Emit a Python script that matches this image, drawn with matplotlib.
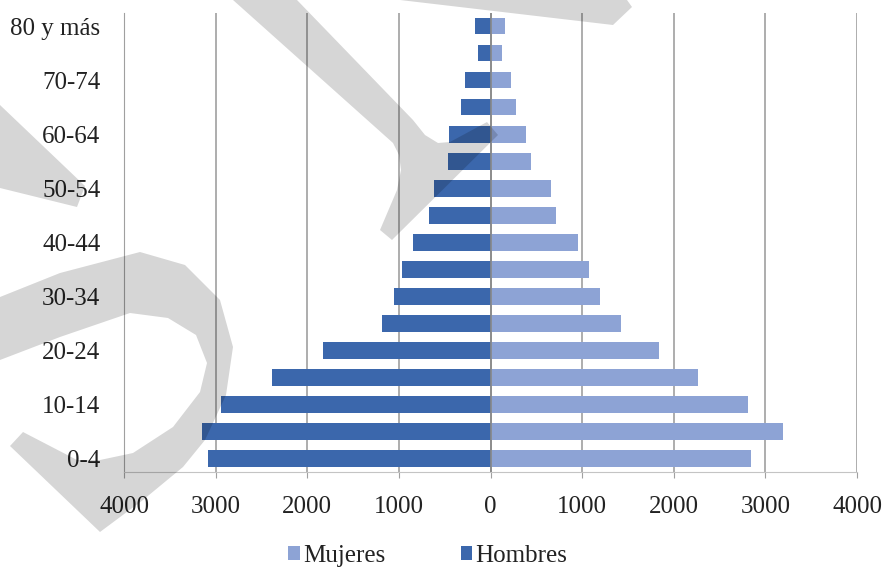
import numpy as np
import matplotlib
matplotlib.use('Agg')
from matplotlib import pyplot as plt
from matplotlib.patches import Polygon
from matplotlib.transforms import Affine2D

# age groups, bottom to top
grupos = ['0-4', '5-9', '10-14', '15-19', '20-24', '25-29', '30-34', '35-39',
          '40-44', '45-49', '50-54', '55-59', '60-64', '65-69', '70-74',
          '75-79', '80 y más']
hombres = [3080, 3150, 2940, 2380, 1830, 1180, 1050, 970, 850, 670, 620,
           460, 450, 320, 280, 140, 170]
mujeres = [2840, 3190, 2810, 2270, 1840, 1420, 1190, 1080, 950, 710, 660,
           440, 390, 280, 220, 130, 160]

xticks = [-4000, -3000, -2000, -1000, 0, 1000, 2000, 3000, 4000]

plt.rcParams['font.family'] = ['Liberation Serif', 'DejaVu Serif']

W, H = 884, 571
fig = plt.figure(figsize=(W / 100, H / 100), dpi=100)
ax = fig.add_axes([124 / W, 1 - 472 / H, 733 / W, 459.5 / H])

y = np.arange(len(grupos))
ax.barh(y, mujeres, height=0.62, color='#8DA3D5', label='Mujeres', zorder=3)
ax.barh(y, -np.array(hombres), height=0.62, color='#3B67AC', label='Hombres', zorder=3)

ax.set_xlim(-4000, 4000)
ax.set_ylim(-0.5, len(grupos) - 0.5)
ax.set_xticks(xticks)
ax.set_xticklabels([str(abs(v)) for v in xticks])
ax.set_yticks(y[::2])
ax.set_yticklabels(grupos[::2])

ax.grid(axis='x', color='#a0a0a0', linewidth=1.2, zorder=0)
ax.axvline(0, color='#888888', linewidth=1.2, zorder=4)
for s in ['top', 'right']:
    ax.spines[s].set_visible(False)
ax.spines['left'].set_color('#a0a0a0')
ax.spines['bottom'].set_color('#c4c4c4')
ax.tick_params(axis='x', direction='out', length=4, color='#a0a0a0',
               labelsize=18, pad=13, labelcolor='#222222')
ax.tick_params(axis='y', length=0, labelsize=18, pad=17, labelcolor='#222222')

leg = fig.legend(loc='center', bbox_to_anchor=(428 / W, 1 - 556 / H), ncol=2,
                 frameon=False, fontsize=18, handlelength=0.45, handleheight=0.45,
                 handletextpad=0.15, columnspacing=3.0, borderpad=0)
for t in leg.get_texts():
    t.set_color('#222222')

# grey watermark shapes drawn over the chart (pixel coords, y down)
px = Affine2D().scale(1 / W, -1 / H).translate(0, 1) + fig.transFigure
marcas = [
    [(0, 297), (60, 273), (140, 252), (185, 265), (220, 300), (233, 347),
     (226, 395), (205, 440), (183, 467), (143, 500), (100, 532), (10, 446),
     (23, 432), (77, 460), (100, 460), (133, 453), (173, 427), (200, 392),
     (207, 363), (196, 335), (168, 318), (130, 313), (60, 337), (0, 360)],
    [(0, 105), (85, 186), (77, 207), (0, 188)],
    [(233, 0), (393, 143), (399, 155), (401, 170), (397, 190), (380, 230),
     (392, 240), (498, 135), (487, 122), (450, 142), (438, 143), (425, 135),
     (413, 120), (297, 0)],
    [(400, 0), (627, 0), (632, 7), (613, 25)],
]
for m in marcas:
    fig.add_artist(Polygon(m, closed=True, transform=px, facecolor='black',
                           edgecolor='none', alpha=0.16, zorder=10))

fig.savefig('out.png', dpi=100)
